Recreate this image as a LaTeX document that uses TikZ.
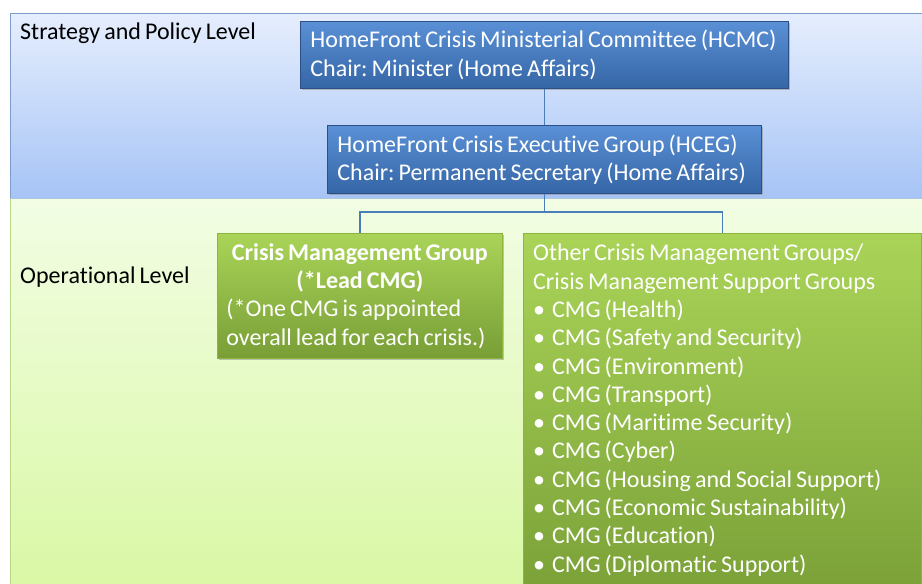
\documentclass[tikz,border=0pt]{standalone}
\usepackage{fontspec}
\setmainfont{Carlito}[WordSpace=0.75,Ligatures=NoCommon]
\usetikzlibrary{shadows}
\definecolor{bandBlueTop}{HTML}{E6EEFD}
\definecolor{bandBlueBot}{HTML}{A6C4F6}
\definecolor{bandBlueLine}{HTML}{7E9CCB}
\definecolor{bandGreenTop}{HTML}{F2FDE4}
\definecolor{bandGreenBot}{HTML}{D9F8A4}
\definecolor{bandGreenLine}{HTML}{B8DA88}
\definecolor{boxBlueTop}{HTML}{5A90D6}
\definecolor{boxBlueBot}{HTML}{3566A6}
\definecolor{boxBlueLine}{HTML}{2C4F86}
\definecolor{boxGreenTop}{HTML}{AAD458}
\definecolor{boxGreenBot}{HTML}{789E36}
\definecolor{boxGreenLine}{HTML}{8DB53E}
\definecolor{connBlue}{HTML}{4A7EBB}
\tikzset{
  band/.style={line width=1pt},
  bluebox/.style={draw=boxBlueLine, line width=0.8pt, top color=boxBlueTop, bottom color=boxBlueBot,
    text=white, inner xsep=10pt, inner ysep=0pt, anchor=north west,
    drop shadow={shadow xshift=1.5pt, shadow yshift=-1.5pt, opacity=0.45}},
  greenbox/.style={draw=boxGreenLine, line width=0.8pt, top color=boxGreenTop, bottom color=boxGreenBot,
    text=white, anchor=north west,
    drop shadow={shadow xshift=1.5pt, shadow yshift=-1.5pt, opacity=0.45}},
  level/.style={anchor=west, text=black, inner sep=0pt},
  conn/.style={draw=connBlue, line width=1.4pt},
}
\newcommand{\bul}[1]{\makebox[19pt][l]{\textbullet}#1\\}
\newcommand{\lines}[2]{\begin{minipage}{#1}\raggedright #2\end{minipage}}
\begin{document}
\begin{tikzpicture}[x=1pt,y=-1pt,font=\fontsize{24}{28.3}\selectfont\frenchspacing]
\useasboundingbox (0,0) rectangle (922,584);
% bands
\fill[top color=bandGreenTop, bottom color=bandGreenBot] (10,198) rectangle (930,590);
\draw[bandGreenLine, band] (10,590) -- (10,198) -- (930,198);
\fill[top color=bandBlueTop, bottom color=bandBlueBot] (10,13) rectangle (930,198);
\draw[bandBlueLine, band] (10,198) -- (10,13) -- (930,13);
\draw[bandBlueLine!60, band] (10,198) -- (930,198);
% level labels
\node[level] (lvl1) at (20,33) {Strategy and Policy Level};
\node[level] (lvl2) at (20,277) {Operational Level};
% boxes
\node[bluebox, minimum width=488pt, minimum height=67pt] (hcmc) at (300,21)
  {\lines{468pt}{HomeFront Crisis Ministerial Committee (HCMC)\\Chair: Minister (Home Affairs)}};
\node[bluebox, minimum width=434pt, minimum height=68pt] (hceg) at (327,125)
  {\lines{414pt}{HomeFront Crisis Executive Group (HCEG)\\Chair: Permanent Secretary (Home Affairs)}};
\node[greenbox, minimum width=285pt, minimum height=125pt, inner sep=0pt] (lead) at (217,233)
  {\begin{minipage}{267pt}\centering\bfseries Crisis Management Group\\(*Lead CMG)\par
   \raggedright\mdseries (*One CMG is appointed\\overall lead for each crisis.)\end{minipage}};
\node[greenbox, minimum width=398pt, minimum height=380pt, inner sep=0pt] (other) at (523,233) {};
\node[anchor=north west, text=white, inner sep=0pt] (othertext) at (533,244)
  {\lines{385pt}{Other Crisis Management Groups/\\Crisis Management Support Groups\\
   \bul{CMG (Health)}\bul{CMG (Safety and Security)}\bul{CMG (Environment)}\bul{CMG (Transport)}%
   \bul{CMG (Maritime Security)}\bul{CMG (Cyber)}\bul{CMG (Housing and Social Support)}%
   \bul{CMG (Economic Sustainability)}\bul{CMG (Education)}\makebox[19pt][l]{\textbullet}CMG (Diplomatic Support)}};
% connectors
\coordinate (bus) at (hceg.south |- 0,212);
\draw[conn] (hcmc.south) -- (hceg.north);
\draw[conn] (hceg.south) -- (bus) -| (lead.north);
\draw[conn] (bus) -| (other.north);
\end{tikzpicture}
\end{document}
